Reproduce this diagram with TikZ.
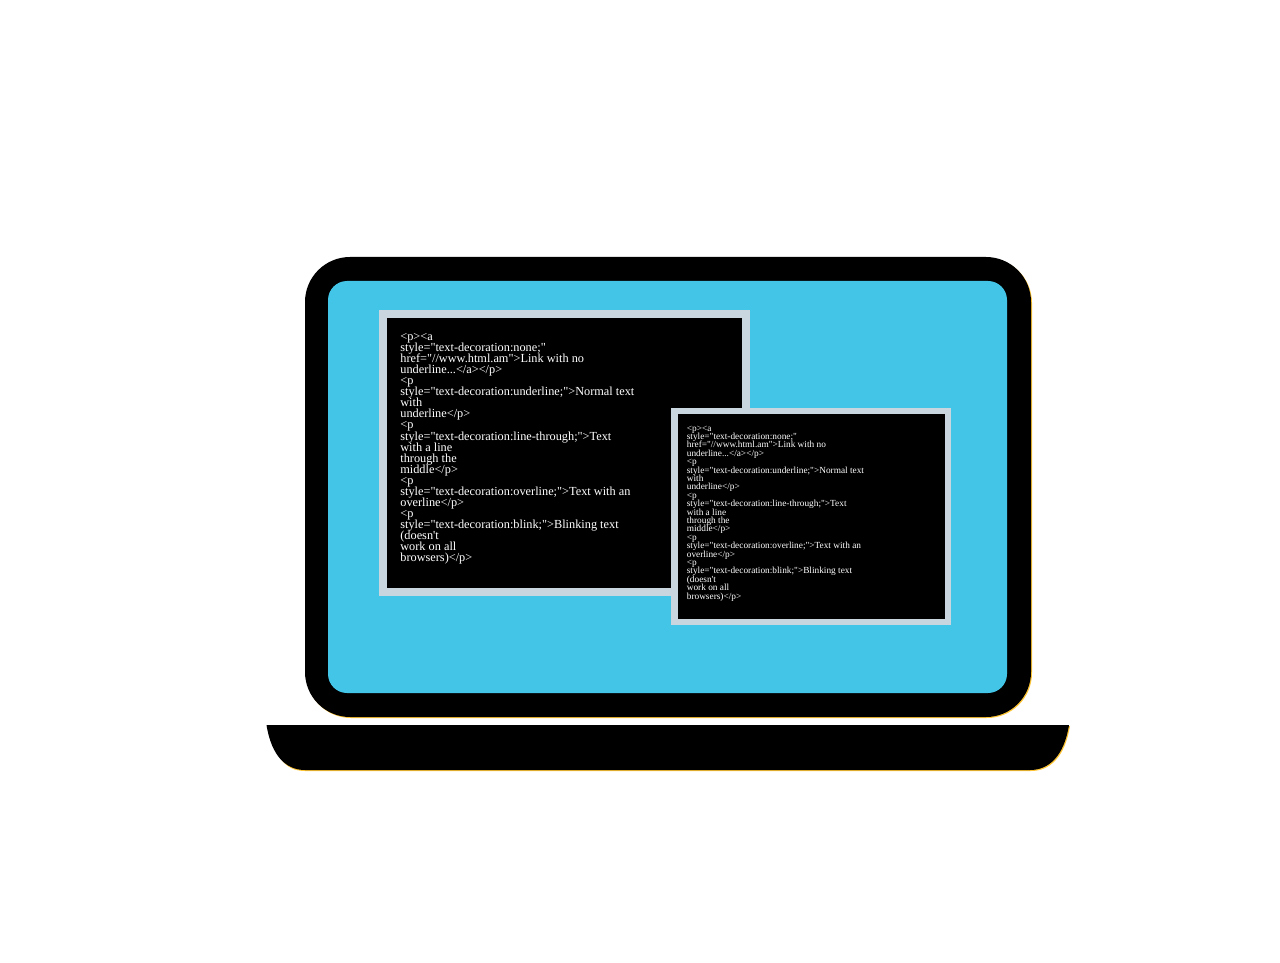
\documentclass[tikz,border=0pt]{standalone}
\usepackage{fontspec}
\setmainfont[Ligatures=TeXOff]{Liberation Serif}
\usetikzlibrary{positioning}
\definecolor{screenblue}{HTML}{43C5E8}
\definecolor{framegray}{HTML}{C9D6DF}
\definecolor{edgeyellow}{HTML}{FDC536}
\lineskiplimit=-1cm
\normallineskiplimit=-1cm
\tikzstyle{shell} = [
    rectangle,
    rounded corners=0.9cm,
    minimum width=14.52cm,
    minimum height=9.2cm,
    inner sep=0pt,
    fill=black
]
\tikzstyle{display} = [
    rectangle,
    rounded corners=0.38cm,
    minimum width=13.58cm,
    minimum height=8.24cm,
    inner sep=0pt,
    fill=screenblue
]
\tikzstyle{window} = [
    rectangle,
    inner sep=0pt,
    draw=framegray,
    fill=black
]
\tikzstyle{code} = [
    anchor=north west,
    inner sep=0pt,
    align=left,
    text=white
]
\newcommand{\htmlcode}{%
<p><a\\
style="text-decoration:none;"\\
href="//www.html.am">Link with no\\
underline...</a></p>\\
<p\\
style="text-decoration:underline;">Normal text\\
with\\
underline</p>\\
<p\\
style="text-decoration:line-through;">Text\\
with a line\\
through the\\
middle</p>\\
<p\\
style="text-decoration:overline;">Text with an\\
overline</p>\\
<p\\
style="text-decoration:blink;">Blinking text\\
(doesn't\\
work on all\\
browsers)</p>}
\begin{document}
\begin{tikzpicture}

\useasboundingbox (0,0) rectangle (25.6,19.24);

% yellow edges under the black parts
\node (shelledge) [shell, fill=edgeyellow] at (13.38,9.48) {};
\fill [edgeyellow] (5.36,4.72) .. controls (5.5,4.1) and (5.7,3.82) .. (6.1,3.82)
    -- (20.62,3.82) .. controls (21.0,3.82) and (21.3,4.1) .. (21.4,4.72) -- cycle;

\node (shell) [shell] at (13.36,9.5) {};
\node (display) [display] at (13.35,9.5) {};

\fill (5.33,4.74) -- (21.38,4.74) .. controls (21.28,4.12) and (20.98,3.84) .. (20.6,3.84)
    -- (6.1,3.84) .. controls (5.72,3.84) and (5.43,4.12) .. (5.33,4.74) -- cycle;

\node (bigwin) [window, line width=0.16cm, minimum width=7.26cm, minimum height=5.56cm] at (11.29,10.18) {};
\node (bigcode) [code, font=\fontsize{7.0}{6.3}\selectfont] at (8.0,12.58) {\htmlcode};

\node (smallwin) [window, line width=0.13cm, minimum width=5.47cm, minimum height=4.22cm] at (16.22,8.91) {};
\node (smallcode) [code, font=\fontsize{5.3}{4.78}\selectfont] at (13.73,10.73) {\htmlcode};

\end{tikzpicture}
\end{document}
